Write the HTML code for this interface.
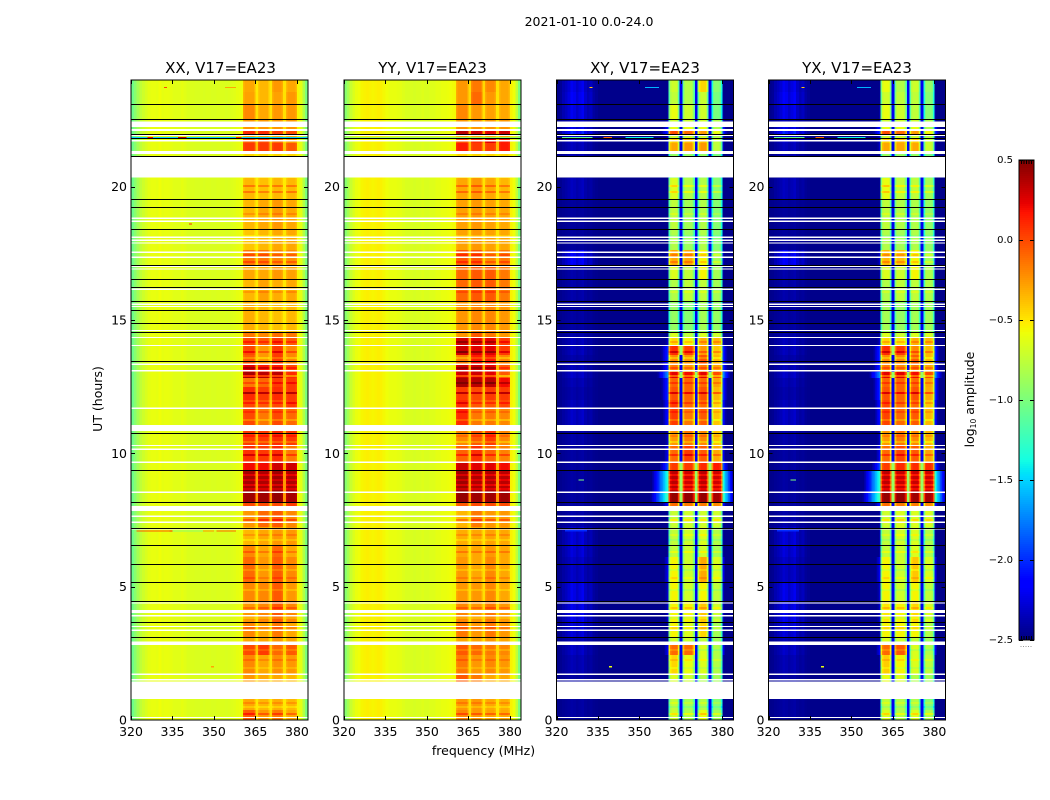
<!DOCTYPE html>
<html lang="en">
<head>
<meta charset="utf-8">
<title>2021-01-10 dynamic spectra</title>
<style>
html,body{margin:0;padding:0;background:#fff;}
svg{display:block;}
text{font-family:"DejaVu Sans","Liberation Sans",sans-serif;fill:#000;}
</style>
</head>
<body>
<svg id="chart" xmlns="http://www.w3.org/2000/svg" width="1050" height="800" viewBox="0 0 1050 800">
<rect width="1050" height="800" fill="#fff"/>
<text x="589" y="26" font-size="12.5" text-anchor="middle">2021-01-10 0.0-24.0</text>
<text x="483.5" y="755" font-size="12.5" text-anchor="middle">frequency (MHz)</text>
<text transform="translate(102 399) rotate(-90)" font-size="12.5" text-anchor="middle">UT (hours)</text>
<text transform="translate(974 399.5) rotate(-90)" font-size="12.5" text-anchor="middle">log<tspan font-size="7.5" dy="2">10</tspan><tspan dy="-2"> amplitude</tspan></text>
</svg>
<script>
// ---------- chart data (log10 amplitude) ----------
const panelTitles = ["XX, V17=EA23", "YY, V17=EA23", "XY, V17=EA23", "YX, V17=EA23"];
const freqTicks = [320, 335, 350, 365, 380];
const hourTicks = [0, 5, 10, 15, 20];
const colorTicks = [0.5, 0.0, -0.5, -1.0, -1.5, -2.0, -2.5];

// out-of-band amplitude for each of the 64 one-MHz channels
const xxBaseline = [-1.05,-.95,-.85,-.75,-.7,-.66,-.62,-.6,-.6,-.61,-.58,-.61,-.6,-.6,-.61,-.63,-.63,-.63,-.61,-.63,-.65,-.65,-.65,-.66,-.66,-.65,-.66,-.65,-.65,-.66,-.66,-.65,-.65,-.65,-.66,-.65,-.64,-.63,-.61,-.6,-.58,-.55,-.55,-.55,-.55,-.55,-.55,-.55,-.55,-.55,-.55,-.55,-.55,-.55,-.55,-.55,-.55,-.55,-.55,-.55,-.55,-.62,-.8,-1.0];
const yyBaseline = [-.95,-.85,-.72,-.65,-.6,-.58,-.55,-.54,-.53,-.54,-.55,-.54,-.53,-.54,-.56,-.58,-.6,-.6,-.6,-.61,-.62,-.64,-.66,-.66,-.66,-.67,-.66,-.66,-.64,-.66,-.66,-.64,-.64,-.62,-.62,-.6,-.6,-.59,-.58,-.57,-.56,-.5,-.5,-.5,-.5,-.5,-.5,-.5,-.5,-.5,-.5,-.5,-.5,-.5,-.5,-.5,-.5,-.5,-.5,-.5,-.54,-.58,-.75,-1.0];

// time segment start hours (the last segment ends at 24 h)
const segmentStarts = [0,.38,.79,1.44,1.73,2.44,2.81,3.11,3.68,4.43,5.18,6.11,6.56,7.24,7.84,8.18,8.55,9.38,9.68,10.31,10.84,11.7,12,12.49,12.83,13.05,13.31,13.69,14.03,14.33,14.55,15.71,16.5,17.06,17.63,18.41,19.54,20.33,21.15,21.34,21.64,21.79,21.98,22.09,22.24,22.54,23.1,23.55];

// band levels per time segment: one [b1,b2,b3,b4] row per segment
const xxBands = [[-.05,-.25,-.15,-.3],[-.3,-.35,-.32,-.35],[-.4,-.4,-.4,-.4],[-.25,-.3,-.3,-.35],[-.2,-.3,-.22,-.25],[0,.05,-.1,-.05],[-.3,-.3,-.25,-.3],[-.2,-.3,-.15,-.3],[-.25,-.2,-.05,-.2],[-.2,-.2,-.05,-.25],[-.1,-.25,-.05,-.2],[-.2,-.3,-.1,-.3],[-.35,-.3,-.25,-.25],[-.25,-.1,-.05,-.2],[0,0,0,.05],[.42,.42,.45,.4],[.4,.38,.42,.38],[.2,.2,.3,.3],[.08,.05,.1,-.15],[.05,.05,.1,.05],[0,-.15,0,-.1],[0,-.05,0,.05],[.1,.05,.1,.05],[-.15,-.1,.05,.05],[.4,.35,.35,.1],[.25,.15,.15,0],[-.05,-.25,.05,-.2],[0,-.25,.05,-.2],[0,-.05,.05,-.05],[-.15,-.2,-.12,-.15],[-.32,-.35,-.38,-.35],[-.35,-.28,-.32,-.3],[-.3,-.3,-.25,-.28],[-.15,-.15,-.2,-.22],[-.4,-.35,-.3,-.3],[-.35,-.3,-.25,-.3],[-.35,-.38,-.35,-.35],[-.5,-.5,-.5,-.5],[-.45,-.45,-.45,-.45],[.05,.05,.05,-.05],[-.05,0,-.1,-.25],[-.3,-.3,-.3,-.3],[.1,.1,.05,0],[-.25,-.25,-.25,-.25],[-.25,-.25,-.25,-.25],[-.2,-.3,-.25,-.25],[-.28,-.35,-.28,-.25],[-.3,-.35,-.25,-.3]];
const yyBands = [[-.2,-.25,-.28,-.3],[-.25,-.25,-.3,-.32],[-.4,-.4,-.4,-.4],[-.05,-.15,-.3,-.3],[-.15,-.25,-.2,-.25],[-.05,-.1,-.15,-.2],[-.3,-.3,-.25,-.3],[-.15,-.25,-.15,-.25],[-.2,-.25,-.15,-.25],[-.25,-.25,-.2,-.3],[-.25,-.3,-.2,-.3],[-.3,-.3,-.25,-.3],[-.32,-.3,-.28,-.3],[-.35,-.15,-.25,-.25],[-.05,0,0,0],[.45,.42,.42,.42],[.42,.38,.38,.35],[.3,.25,.25,.2],[-.08,.08,-.08,-.18],[-.2,-.05,.05,-.2],[.1,-.15,-.15,-.2],[.1,-.05,-.05,0],[.05,0,.05,.05],[.4,.35,.35,.2],[.3,.3,.25,-.05],[.3,.3,.25,-.05],[-.15,.15,.15,-.2],[.3,.25,.25,.05],[.3,.25,.25,.05],[-.25,-.05,-.15,-.25],[-.25,-.2,-.2,-.25],[-.1,-.05,-.05,-.15],[-.1,-.05,-.05,-.15],[-.05,-.05,-.2,-.15],[-.28,-.25,-.28,-.3],[-.28,-.25,-.28,-.3],[-.3,-.25,-.3,-.35],[-.5,-.5,-.5,-.5],[-.45,-.45,-.45,-.45],[.15,.05,.05,.15],[0,.1,.25,.15],[-.3,-.3,-.3,-.3],[.35,.3,.25,.3],[-.25,-.25,-.25,-.25],[-.25,-.25,-.25,-.25],[-.2,-.25,-.28,-.3],[-.25,-.1,-.25,-.3],[-.25,-.15,-.2,-.3]];
const xyBands = [[-.7,-.8,-.6,-.85],[-.75,-.85,-.8,-.95],[-.9,-.9,-.9,-1],[-.65,-.7,-.8,-.85],[-.45,-.6,-.65,-.8],[-.1,-.1,-.65,-.8],[-.7,-.7,-.75,-.85],[-.55,-.65,-.45,-.85],[-.55,-.55,-.4,-.7],[-.55,-.7,-.55,-.75],[-.55,-.7,-.3,-.65],[-.75,-.72,-.7,-.85],[-.75,-.7,-.65,-.8],[-.72,-.7,-.7,-.7],[-.1,-.15,-.15,-.2],[.45,.45,.45,.4],[.35,.3,.35,.3],[.05,.05,.1,.15],[-.1,.05,-.05,-.3],[-.25,-.15,-.2,-.4],[.05,-.15,-.05,-.4],[.05,-.1,-.1,-.45],[-.02,-.08,-.02,-.35],[-.08,-.08,-.1,-.28],[.25,.2,.25,0],[-.15,-.25,-.15,-.28],[-.2,-.25,-.02,-.35],[.1,.02,-.25,-.4],[-.45,-.55,-.32,-.35],[-.65,-.75,-.65,-.7],[-.9,-.95,-.85,-.9],[-.8,-.75,-.75,-.85],[-.65,-.75,-.55,-.85],[-.3,-.3,-.55,-.85],[-.8,-.88,-.8,-.95],[-.75,-.85,-.8,-.95],[-.65,-.8,-.8,-.95],[-.9,-.9,-.9,-1],[-.9,-.9,-.9,-1],[-.3,-.25,-.25,-.75],[-.4,-.35,-.35,-.75],[-.7,-.7,-.7,-.8],[0,-.1,-.25,-.6],[-.6,-.6,-.6,-.8],[-.7,-.7,-.7,-.8],[-.6,-.7,-.7,-1],[-.75,-.8,-.72,-1],[-.7,-.8,-.45,-.95]];
const yxBands = [[-.65,-.8,-.65,-.8],[-.75,-.8,-.8,-.95],[-.9,-.9,-.9,-1],[-.6,-.65,-.8,-.85],[-.42,-.55,-.65,-.75],[-.1,-.05,-.65,-.8],[-.65,-.7,-.75,-.85],[-.55,-.55,-.55,-.8],[-.5,-.55,-.45,-.65],[-.55,-.7,-.55,-.75],[-.55,-.7,-.4,-.65],[-.75,-.72,-.65,-.8],[-.75,-.68,-.65,-.8],[-.7,-.65,-.65,-.65],[-.1,-.15,-.15,-.2],[.45,.45,.42,.4],[.35,.32,.32,.3],[.05,.1,.1,.1],[-.1,.02,-.05,-.28],[-.25,-.15,-.2,-.35],[.02,-.1,-.05,-.35],[.02,-.1,-.1,-.4],[-.02,-.08,-.02,-.3],[-.08,-.08,-.1,-.28],[.25,.25,.2,0],[-.15,-.2,-.15,-.28],[-.2,-.2,-.05,-.35],[.1,.05,-.2,-.35],[-.45,-.5,-.32,-.35],[-.65,-.7,-.65,-.65],[-.85,-.9,-.85,-.85],[-.8,-.75,-.75,-.8],[-.65,-.7,-.55,-.8],[-.35,-.38,-.55,-.85],[-.8,-.85,-.8,-.9],[-.75,-.8,-.8,-.9],[-.6,-.75,-.75,-.85],[-.9,-.9,-.9,-1],[-.9,-.9,-.9,-1],[-.3,-.3,-.3,-.7],[-.4,-.35,-.4,-.7],[-.7,-.7,-.7,-.8],[0,-.1,-.25,-.55],[-.6,-.6,-.6,-.8],[-.7,-.7,-.7,-.8],[-.6,-.7,-.75,-.95],[-.7,-.75,-.75,-.95],[-.6,-.8,-.7,-.9]];

// cross-pol spill-over next to the band and faint patch at 322-334 MHz, per segment
const crossLeak = [-2.45,-2.45,-2.45,-2.45,-2.4,-2.2,-2.45,-2.4,-2.3,-2.3,-2.2,-2.4,-2.4,-2.4,-2.1,-1.2,-1.3,-1.9,-2.2,-2.3,-2.1,-2.1,-2,-2,-1.7,-2,-2,-2,-2.3,-2.4,-2.45,-2.45,-2.4,-2.3,-2.45,-2.45,-2.45,-2.45,-2.45,-2.3,-2.3,-2.3,-2.0,-2.1,-2.3,-2.4,-2.45,-2.45];
const crossPatch = [-2.4,-2.4,-2.45,-2.4,-2.35,-2.3,-2.35,-2.25,-2.2,-2.2,-2.3,-2.25,-2.25,-2.38,-2.4,-2.4,-2.4,-2.4,-2.4,-2.38,-2.3,-2.33,-2.38,-2.35,-2.3,-2.33,-2.38,-2.33,-2.33,-2.38,-2.4,-2.38,-2.38,-2.15,-2.42,-2.42,-2.33,-2.45,-2.35,-2.33,-2.3,-2.25,-2.0,-2.2,-2.35,-2.2,-2.15,-2.2];
// how strongly that patch shows in each of channels 0-15
const crossPatchShape = [0,.1,.35,.5,.7,1,.85,.6,.8,1,.55,.35,.5,.2,.1,0];

// thin in-band rows that differ from their segment: start hour and log offset
const stripeHours = [.23,.49,.64,1.95,2.25,2.63,3.45,3.83,4.2,4.88,5.33,5.63,6.3,6.75,6.94,7.5,8.66,8.81,9,9.19,9.94,10.43,10.65,11.25,11.55,11.89,12.26,12.64,12.9,13.2,13.58,13.8,14.18,16.05,17.18,17.44,18.15,18.98,19.8,20.03];
const stripeOffsets = [.2,-.1,.1,-.08,.1,-.1,.1,-.1,.15,-.1,.1,-.1,.15,-.1,.1,.2,-.12,-.15,-.12,-.15,.2,-.15,.1,-.15,.1,.15,.3,.15,-.3,.15,-.15,.2,.15,.1,.15,.15,-.1,.1,.2,.2];

// flagged time ranges drawn white [startHour, endHour]
const flaggedRanges = [[.07,.12],[.79,1.44],[1.48,1.53],[1.69,1.74],[2.81,2.94],[3.34,3.39],[3.48,3.53],[3.88,3.93],[4.01,4.13],[4.36,4.41],[7.14,7.19],[7.39,7.44],[7.62,7.67],[7.84,8.03],[8.52,8.57],[9.64,9.69],[10.13,10.18],[10.27,10.32],[10.84,11.06],[11.67,11.72],[13.07,13.12],[13.32,13.37],[14.02,14.07],[14.32,14.37],[14.58,14.63],[15.48,15.53],[15.57,15.62],[16.13,16.18],[16.89,16.94],[16.98,17.03],[17.33,17.38],[17.52,17.57],[17.86,17.91],[17.97,18.02],[18.08,18.13],[18.68,18.73],[18.79,18.84],[20.34,21.13],[21.23,21.34],[21.7,21.75],[21.9,21.94],[22.09,22.16],[22.23,22.45]];

// rows with no signal drawn black
const zeroRows = [3.1,3.66,4.45,5.16,5.84,6.55,7.21,8.16,9.36,10.75,13.46,14.55,14.88,15.39,15.7,16.23,16.54,17.05,18.4,19.23,19.53,21.15,21.83,21.98,22.53,23.09];

// narrow interference rows: [hour, panel, first channel, last channel, log amplitude]
const noiseRuns = [[7.09,0,2,7,-.05],[7.09,0,8,13,-.05],[7.09,0,14,14,.1],[7.09,0,15,26,-.95],[7.09,0,26,29,-.25],[7.09,0,31,37,-.1],[21.84,0,0,63,-1.5],[21.84,0,6,7,.2],[21.84,0,17,19,.35],[21.84,0,38,39,.1],[21.84,1,0,63,-.9],[21.84,2,2,12,-1.1],[21.84,2,17,19,-.1],[21.84,2,25,34,-1.4],[21.84,3,2,12,-1.1],[21.84,3,17,19,-.1],[21.84,3,25,34,-1.4],[23.72,0,12,12,0],[23.72,0,34,37,-.3],[23.72,2,12,12,-.4],[23.72,2,32,36,-1.6],[23.72,3,12,12,-.4],[23.72,3,32,36,-1.6],[7.1,2,3,10,-2],[7.1,3,3,10,-2],[9.0,2,8,9,-1],[9.0,3,8,9,-1],[18.6,0,21,21,.1],[2,0,29,29,-.3],[2,2,19,19,-.6],[2,3,19,19,-.6]];

// band limits in MHz above 320
const coBandRanges = [[40.5,45],[46,50],[51,55],[56,60]];
const crossBandRanges = [[40.5,44.5],[45.5,50],[51,55],[56,60]];

// ---------- scales and helpers ----------
const svg = document.getElementById('chart');
const NS = 'http://www.w3.org/2000/svg';
const panelLefts = [131, 344, 556.5, 768.5];
const panelWidth = 177;
const titleCenters = [220.5, 432.5, 645, 857];
const plotTop = 80, plotBottom = 720;
const freqMin = 320, freqMax = 384, hourMin = 0, hourMax = 24;
const colorMin = -2.5, colorMax = 0.5;
const barLeft = 1019, barRight = 1034, barTop = 160, barBottom = 640;
const cellStep = 0.5;

function xScale(panel, f) { return panelLefts[panel] + (f - freqMin) / (freqMax - freqMin) * panelWidth; }
function yScale(h) { return plotBottom - (h - hourMin) / (hourMax - hourMin) * (plotBottom - plotTop); }
function barScale(v) { return barBottom - (v - colorMin) / (colorMax - colorMin) * (barBottom - barTop); }

function ramp(x, pts) {
  for (let i = 1; i < pts.length; i++) {
    if (x <= pts[i][0]) {
      const a = pts[i - 1], b = pts[i];
      return a[1] + (b[1] - a[1]) * (x - a[0]) / (b[0] - a[0]);
    }
  }
  return pts[pts.length - 1][1];
}
function jet(v) {
  const t = Math.max(0, Math.min(1, (v - colorMin) / (colorMax - colorMin)));
  const r = ramp(t, [[0,0],[.35,0],[.66,1],[.89,1],[1,.5]]);
  const g = ramp(t, [[0,0],[.125,0],[.375,1],[.64,1],[.91,0],[1,0]]);
  const b = ramp(t, [[0,.5],[.11,1],[.34,1],[.65,0],[1,0]]);
  return 'rgb(' + Math.round(r * 255) + ',' + Math.round(g * 255) + ',' + Math.round(b * 255) + ')';
}
function makeRect(parent, x, y, w, h, fill) {
  const el = document.createElementNS(NS, 'rect');
  el.setAttribute('x', x);
  el.setAttribute('y', y);
  el.setAttribute('width', w);
  el.setAttribute('height', h);
  el.setAttribute('fill', fill);
  el.setAttribute('shape-rendering', 'crispEdges');
  parent.appendChild(el);
  return el;
}
function makeLine(parent, x1, y1, x2, y2, color) {
  const el = document.createElementNS(NS, 'line');
  el.setAttribute('x1', x1);
  el.setAttribute('y1', y1);
  el.setAttribute('x2', x2);
  el.setAttribute('y2', y2);
  el.setAttribute('stroke', color);
  el.setAttribute('stroke-width', 1);
  parent.appendChild(el);
  return el;
}
function makeText(parent, x, y, str, size, anchor) {
  const el = document.createElementNS(NS, 'text');
  el.setAttribute('x', x);
  el.setAttribute('y', y);
  el.setAttribute('font-size', size);
  el.setAttribute('text-anchor', anchor);
  el.textContent = str;
  parent.appendChild(el);
  return el;
}
function findBand(mhz, ranges) {
  for (let b = 0; b < ranges.length; b++) {
    if (mhz >= ranges[b][0] && mhz < ranges[b][1]) {
      const fromEdge = Math.min(mhz - ranges[b][0], ranges[b][1] - cellStep - mhz);
      return { band: b, fromEdge: fromEdge };
    }
  }
  return null;
}
function findGap(mhz, ranges) {
  for (let b = 0; b + 1 < ranges.length; b++) {
    if (mhz >= ranges[b][1] && mhz < ranges[b + 1][0]) return b;
  }
  return -1;
}
function coPolValue(baseline, levels, mhz, offset) {
  const where = findBand(mhz, coBandRanges);
  if (where) return levels[where.band] + (where.fromEdge < cellStep ? -0.06 : 0) + offset;
  const gap = findGap(mhz, coBandRanges);
  if (gap >= 0) return -0.5 + ((levels[gap] + levels[gap + 1]) / 2 + 0.3) * 0.35;
  return baseline[Math.floor(mhz)];
}
function crossValue(levels, leak, patch, mhz, offset) {
  const where = findBand(mhz, crossBandRanges);
  const floor = -2.47;
  if (where) {
    const edge = where.fromEdge < cellStep ? -0.4 : where.fromEdge < 2 * cellStep ? -0.08 : 0;
    return levels[where.band] + edge + offset;
  }
  const gap = findGap(mhz, crossBandRanges);
  if (gap >= 0) return (levels[gap] + levels[gap + 1]) / 2 > 0 ? -0.9 : -2.2;
  if (mhz >= 33 && mhz < 40.5) return Math.max(floor, leak - (40 - mhz) * 0.2);
  if (mhz >= 60) return Math.max(floor, leak - (mhz - 60) * 0.3);
  if (mhz < crossPatchShape.length) return floor + (patch - floor) * crossPatchShape[Math.floor(mhz)];
  return floor;
}
function segmentAt(hour) {
  let s = 0;
  while (s + 1 < segmentStarts.length && segmentStarts[s + 1] <= hour) s++;
  return s;
}
function cellValue(p, s, mhz, offset) {
  const levels = panelBands[p][s];
  if (p === 0) return coPolValue(xxBaseline, levels, mhz, offset);
  if (p === 1) return coPolValue(yyBaseline, levels, mhz, offset);
  return crossValue(levels, crossLeak[s], crossPatch[s], mhz, offset);
}

// ---------- panels ----------
const panelBands = [xxBands, yyBands, xyBands, yxBands];
panelTitles.forEach(function (title, p) {
  const g = document.createElementNS(NS, 'g');
  
  
  svg.appendChild(g);

  const heat = document.createElementNS(NS, 'g');
  
  
  g.appendChild(heat);

  const nCells = (freqMax - freqMin) / cellStep;
  segmentStarts.forEach(function (startHour, s) {
    const endHour = s + 1 < segmentStarts.length ? segmentStarts[s + 1] : hourMax;
    const yTop = Math.round(yScale(endHour));
    const yBot = Math.round(yScale(startHour));
    for (let i = 0; i < nCells; i++) {
      const mhz = i * cellStep;
      const x0 = xScale(p, freqMin + mhz), x1 = xScale(p, freqMin + mhz + cellStep);
      const cell = makeRect(heat, x0, yTop, x1 - x0, yBot - yTop, jet(cellValue(p, s, mhz, 0)));
      
      
    }
  });

  stripeHours.forEach(function (hour, k) {
    const s = segmentAt(hour);
    const ranges = p < 2 ? coBandRanges : crossBandRanges;
    for (let i = 0; i < nCells; i++) {
      const mhz = i * cellStep;
      if (!findBand(mhz, ranges)) continue;
      const x0 = xScale(p, freqMin + mhz), x1 = xScale(p, freqMin + mhz + cellStep);
      const cell = makeRect(heat, x0, yScale(hour) - 1, x1 - x0, 2, jet(cellValue(p, s, mhz, stripeOffsets[k])));
      
      
    }
  });

  noiseRuns.forEach(function (run) {
    if (run[1] !== p) return;
    const x0 = xScale(p, freqMin + run[2]), x1 = xScale(p, freqMin + run[3] + 1);
    const mark = makeRect(heat, x0, yScale(run[0]) - 0.6, x1 - x0, 1.2, jet(run[4]));
    
    
  });

  flaggedRanges.forEach(function (range) {
    const y0 = yScale(range[1]), y1 = yScale(range[0]);
    const gap = makeRect(g, panelLefts[p], y0, panelWidth, Math.max(1, y1 - y0), '#fff');
    
    
  });

  zeroRows.forEach(function (hour) {
    const row = makeRect(g, panelLefts[p], Math.round(yScale(hour)), panelWidth, 1, '#000');
    
    
  });

  // ticks
  freqTicks.forEach(function (f) {
    const x = Math.round(xScale(p, f)) + 0.5;
    const t1 = makeLine(g, x, plotBottom, x, plotBottom - 4, '#000');
    
    
    const t2 = makeLine(g, x, plotTop, x, plotTop + 4, '#000');
    
    
    const lab = makeText(g, xScale(p, f), 736, String(f), 12.5, 'middle');
    
    
  });
  hourTicks.forEach(function (h) {
    const y = Math.round(yScale(h)) + (h === 0 ? 0 : 0.5);
    const t1 = makeLine(g, panelLefts[p], y, panelLefts[p] + 4, y, '#000');
    
    
    const t2 = makeLine(g, panelLefts[p] + panelWidth, y, panelLefts[p] + panelWidth - 4, y, '#000');
    
    
    const lab = makeText(g, panelLefts[p] - 4, yScale(h) + 4.5, String(h), 12.5, 'end');
    
    
  });

  const frame = document.createElementNS(NS, 'rect');
  frame.setAttribute('x', panelLefts[p]);
  frame.setAttribute('y', plotTop);
  frame.setAttribute('width', panelWidth);
  frame.setAttribute('height', plotBottom - plotTop);
  frame.setAttribute('fill', 'none');
  frame.setAttribute('stroke', '#000');
  frame.setAttribute('stroke-width', 1);
  
  
  g.appendChild(frame);

  const head = makeText(g, titleCenters[p], 73, title, 15, 'middle');
  
  
});

// ---------- colorbar ----------
const bar = document.createElementNS(NS, 'g');


svg.appendChild(bar);
for (let y = barTop; y < barBottom; y += 2) {
  const value = colorMax - (y + 1 - barTop) / (barBottom - barTop) * (colorMax - colorMin);
  const swatch = makeRect(bar, barLeft, y, barRight - barLeft, 2, jet(value));
  
  
}
colorTicks.forEach(function (v) {
  const y = Math.round(barScale(v)) + 0.5;
  const t1 = makeLine(bar, barLeft, y, barLeft + 4, y, '#000');
  
  
  const t2 = makeLine(bar, barRight, y, barRight - 4, y, '#000');
  
  
  const label = (v < 0 ? '\u2212' : '') + Math.abs(v).toFixed(1);
  const lab = makeText(bar, 1013, barScale(v) + 3, label, 10, 'end');
  
  
});
for (let i = 1; i <= 5; i++) {
  const x = barLeft + i * (barRight - barLeft) / 6;
  const m1 = makeLine(bar, x, barTop, x, barTop + 4, '#000');
  
  
  const m2 = makeLine(bar, x, barBottom, x, barBottom - 4, '#000');
  
  
  const dot = makeRect(bar, x - 1, 646, 1, 1, '#999');
  
  
}
const barFrame = document.createElementNS(NS, 'rect');
barFrame.setAttribute('x', barLeft);
barFrame.setAttribute('y', barTop);
barFrame.setAttribute('width', barRight - barLeft);
barFrame.setAttribute('height', barBottom - barTop);
barFrame.setAttribute('fill', 'none');
barFrame.setAttribute('stroke', '#000');
barFrame.setAttribute('stroke-width', 1);


bar.appendChild(barFrame);
</script>
</body>
</html>
